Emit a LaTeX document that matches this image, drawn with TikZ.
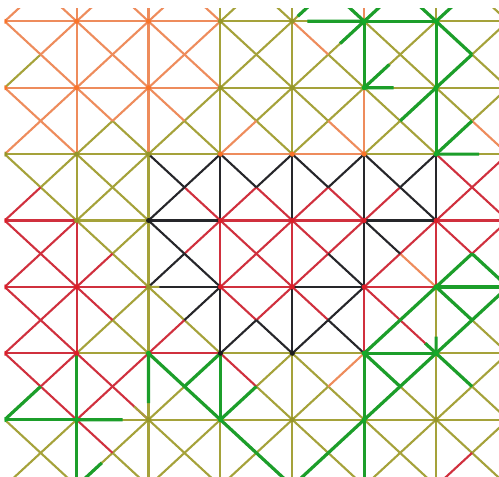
\documentclass[tikz,border=0pt]{standalone}
\usetikzlibrary{calc}
\definecolor{cO}{RGB}{238,140,92}
\definecolor{cY}{RGB}{165,162,58}
\definecolor{cR}{RGB}{208,48,62}
\definecolor{cK}{RGB}{38,38,42}
\definecolor{cG}{RGB}{28,158,42}
\definecolor{dO}{RGB}{250,115,40}
\definecolor{dY}{RGB}{150,150,40}
\definecolor{dR}{RGB}{220,30,40}
\definecolor{dK}{RGB}{30,30,30}
\definecolor{dG}{RGB}{20,170,40}
\def\lwO{2.1pt}\def\lwY{2.1pt}\def\lwR{2.1pt}\def\lwK{2.1pt}\def\lwG{3.2pt}
\tikzset{gpart/.style={draw=cG,line width=3.2pt},
         ypart/.style={draw=cY,line width=2.1pt},
         nodedot/.style={circle,inner sep=0pt,minimum size=5pt}}
\newcommand\mysegdraw[3]{\edef\mytmp{#1}\ifx\mytmp\curpass\draw[draw=c#1,line width=\csname lw#1\endcsname] (#2) -- (#3);\fi}
\newcommand\mydrawall{%
  % top strip (row -1)
  \foreach \i/\qc/\qd in {0/O/O,1/O/O,2/O/O,3/Y/Y,4/Y/G,5/G/G,6/G/Y}{%
    \pgfmathtruncatemacro\ii{\i+1}%
    \mysegdraw{\qc}{p\i-0}{ct\i}\mysegdraw{\qd}{p\ii-0}{ct\i}}%
  \foreach \i/\q in {1/O,2/O,3/Y,4/Y,5/O,6/Y}{\mysegdraw{\q}{p\i-0}{u\i}}%
  % cells: i/j/NW/NE/SW/SE
  \foreach \i/\j/\qa/\qb/\qc/\qd in {
    0/0/O/O/Y/O, 1/0/O/O/O/O, 2/0/O/O/O/O, 3/0/Y/Y/Y/Y, 4/0/O/Y/Y/Y, 5/0/Y/Y/Y/Y, 6/0/G/Y/G/Y,
    0/1/O/O/O/O, 1/1/O/O/Y/Y, 2/1/O/Y/Y/Y, 3/1/Y/Y/O/Y, 4/1/Y/Y/Y/O, 5/1/Y/G/Y/Y, 6/1/Y/Y/G/O,
    0/2/Y/Y/R/Y, 1/2/Y/Y/Y/Y, 2/2/K/K/K/R, 3/2/K/K/R/R, 4/2/K/K/R/R, 5/2/K/K/R/K, 6/2/R/R/R/R,
    0/3/R/R/R/R, 1/3/Y/Y/R/Y, 2/3/K/R/K/K, 3/3/R/R/R/R, 4/3/R/R/R/K, 5/3/K/R/R/O, 6/3/R/R/G/G,
    0/4/R/R/R/R, 1/4/R/Y/Y/Y, 2/4/Y/K/R/Y, 3/4/R/R/K/K, 4/4/R/K/K/K, 5/4/R/G/G/R, 6/4/G/G/G/Y,
    0/5/R/R/G/R, 1/5/R/R/R/R, 2/5/G/G/Y/G, 3/5/R/Y/G/Y, 4/5/Y/O/Y/Y, 5/5/G/G/G/Y, 6/5/G/Y/Y/Y,
    0/6/Y/Y/Y/Y, 1/6/R/Y/Y/Y, 2/6/Y/Y/Y/Y, 3/6/G/Y/Y/G, 4/6/Y/G/G/Y, 5/6/Y/Y/Y/Y, 6/6/Y/Y/R/Y}{%
    \pgfmathtruncatemacro\ii{\i+1}\pgfmathtruncatemacro\jj{\j+1}%
    \mysegdraw{\qa}{p\i-\j}{c\i-\j}%
    \mysegdraw{\qb}{p\ii-\j}{c\i-\j}%
    \mysegdraw{\qc}{p\i-\jj}{c\i-\j}%
    \mysegdraw{\qd}{p\ii-\jj}{c\i-\j}}%
  % horizontal edges
  \foreach \i/\j/\q in {
    0/0/O,1/0/O,2/0/O,3/0/Y,4/0/Y,5/0/G,6/0/Y,
    0/1/O,1/1/O,2/1/O,3/1/Y,4/1/Y,5/1/Y,6/1/Y,
    0/2/Y,1/2/Y,2/2/Y,3/2/O,4/2/O,5/2/Y,6/2/Y,
    0/3/R,1/3/Y,2/3/K,3/3/R,4/3/R,5/3/K,6/3/R,
    0/4/R,1/4/R,2/4/K,3/4/R,4/4/K,5/4/R,6/4/G,
    0/5/R,1/5/Y,2/5/R,3/5/Y,4/5/Y,5/5/G,6/5/Y,
    0/6/G,1/6/Y,2/6/Y,3/6/Y,4/6/Y,5/6/Y,6/6/Y}{%
    \pgfmathtruncatemacro\ii{\i+1}\mysegdraw{\q}{p\i-\j}{p\ii-\j}}%
  % vertical edges
  \foreach \i/\j/\q in {
    1/0/O,2/0/O,3/0/Y,4/0/Y,5/0/G,6/0/G,
    1/1/O,2/1/O,3/1/Y,4/1/Y,5/1/O,6/1/G,
    1/2/Y,2/2/Y,3/2/K,4/2/K,5/2/K,6/2/K,
    1/3/R,2/3/Y,3/3/R,4/3/R,5/3/K,6/3/R,
    1/4/R,2/4/Y,3/4/K,4/4/K,5/4/R,6/4/Y,
    1/5/G,2/5/Y,3/5/G,4/5/Y,5/5/G,6/5/Y,
    1/6/G,2/6/Y,3/6/Y,4/6/Y,5/6/G,6/6/Y}{%
    \pgfmathtruncatemacro\jj{\j+1}\mysegdraw{\q}{p\i-\j}{p\i-\jj}}%
}
\begin{document}
\begin{tikzpicture}[x=1pt,y=-1pt]
\fill[white] (0,0) rectangle (499,477);
\useasboundingbox (0,0) rectangle (499,477);
% lattice points and cell centres
\foreach \i in {0,...,7}{%
  \foreach \j in {0,...,7}{\coordinate (p\i-\j) at ({4.7+71.9*\i},{21.3+66.4*\j});}
  \coordinate (u\i) at ({4.7+71.9*\i},-45.1);}
\foreach \i in {0,...,6}{%
  \foreach \j in {0,...,6}{\coordinate (c\i-\j) at ({40.65+71.9*\i},{54.5+66.4*\j});}
  \coordinate (ct\i) at ({40.65+71.9*\i},-11.9);}
\begin{scope}
\clip (4.7,8.3) rectangle (499,477);
\foreach \cp in {Y,O,R,K,G}{\edef\curpass{\cp}\mydrawall}
% partly coloured edges
\draw[ypart] (p2-4) -- ($(p2-4)!0.15!(p3-4)$);
\draw[ypart] (p2-6) -- ($(p2-6)!0.4!(c1-5)$);
\draw[gpart] (p5-0) -- ($(p5-0)!0.79!(p4-0)$);
\draw[gpart] (p5-0) -- ($(p5-0)!0.67!(c4-0)$);
\draw[gpart] (p5-1) -- ($(p5-1)!0.7!(c5-0)$);
\draw[gpart] (p5-1) -- ($(p5-1)!0.41!(p6-1)$);
\draw[gpart] (p6-2) -- ($(p6-2)!0.6!(p7-2)$);
\draw[gpart] (p6-5) -- ($(p6-5)!0.25!(p6-4)$);
\draw[gpart] (p6-5) -- ($(p6-5)!0.3!(c5-4)$);
\draw[gpart] (p2-5) -- ($(p2-5)!0.75!(p2-6)$);
\draw[gpart] (p1-6) -- ($(p1-6)!0.64!(p2-6)$);
\draw[gpart] (p1-7) -- ($(p1-7)!0.7!(c1-6)$);
\draw[gpart] (ct4) -- ($(ct4)!0.85!(p4-0)$);
% node dots
\foreach \i/\j/\q in {
  0/0/O,1/0/O,2/0/O,3/0/Y,4/0/Y,5/0/G,6/0/G,
  0/1/O,1/1/O,2/1/O,3/1/Y,4/1/Y,5/1/G,6/1/G,
  0/2/Y,1/2/Y,2/2/Y,3/2/O,4/2/O,5/2/O,6/2/G,
  0/3/R,1/3/Y,2/3/K,3/3/R,4/3/R,5/3/R,6/3/R,
  0/4/R,1/4/R,2/4/Y,3/4/R,4/4/R,5/4/R,6/4/G,
  0/5/R,1/5/R,2/5/G,3/5/K,4/5/K,5/5/G,6/5/G,
  0/6/G,1/6/G,2/6/Y,3/6/G,4/6/Y,5/6/G,6/6/Y}{%
  \node[nodedot,fill=d\q] (n\i-\j) at (p\i-\j) {};}
\end{scope}
\end{tikzpicture}
\end{document}
